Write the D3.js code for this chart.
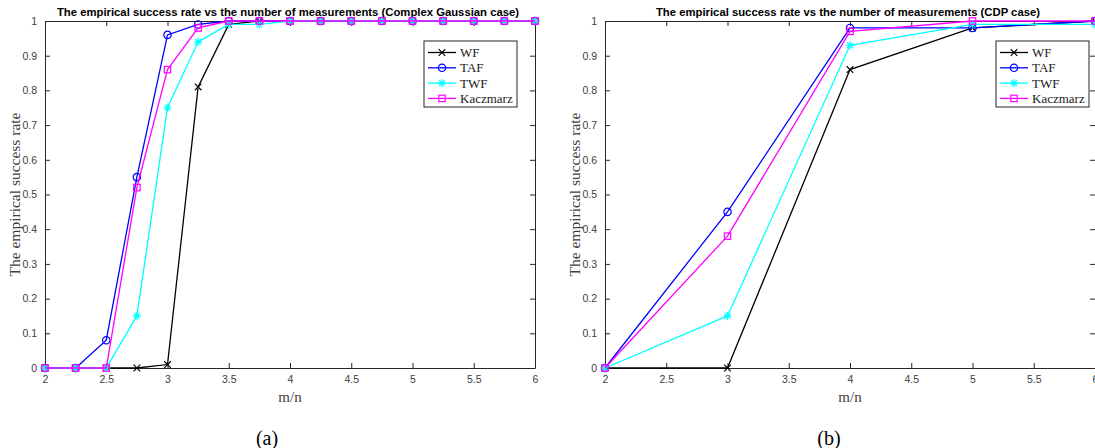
<!DOCTYPE html>
<html>
<head>
<meta charset="utf-8">
<script src="https://cdn.jsdelivr.net/npm/d3@7"></script>
<style>
  html, body { margin: 0; padding: 0; background: #fff; }
  svg { display: block; }
</style>
</head>
<body>
<svg id="chart" width="1095" height="448"></svg>
<script>
/* =======================================================================
   Empirical success rate vs number of measurements
   ======================================================================= */

/* Data
======================================================================= */
var seriesNames = ['WF', 'TAF', 'TWF', 'Kaczmarz'],
    seriesColors = ['#000000', '#0000ff', '#00ffff', '#ff00ff'],
    seriesMarkers = ['x', 'o', 'star', 'square'],

    // Panel (a): complex Gaussian case
    ratiosA = [2, 2.25, 2.5, 2.75, 3, 3.25, 3.5, 3.75, 4, 4.25, 4.5, 4.75, 5, 5.25, 5.5, 5.75, 6],
    wfA   = [0, 0, 0, 0, 0.01, 0.81, 0.99, 1, 1, 1, 1, 1, 1, 1, 1, 1, 1],
    tafA  = [0, 0, 0.08, 0.55, 0.96, 0.99, 1, 1, 1, 1, 1, 1, 1, 1, 1, 1, 1],
    twfA  = [0, 0, 0, 0.15, 0.75, 0.94, 0.99, 0.99, 1, 1, 1, 1, 1, 1, 1, 1, 1],
    kaczA = [0, 0, 0, 0.52, 0.86, 0.98, 1, 1, 1, 1, 1, 1, 1, 1, 1, 1, 1],

    // Panel (b): CDP case
    ratiosB = [2, 3, 4, 5, 6],
    wfB   = [0, 0, 0.86, 0.98, 1],
    tafB  = [0, 0.45, 0.98, 0.98, 1],
    twfB  = [0, 0.15, 0.93, 0.99, 0.99],
    kaczB = [0, 0.38, 0.97, 1, 1],

    // Tick labels
    xTicks = [2, 2.5, 3, 3.5, 4, 4.5, 5, 5.5, 6],
    yTicks = [0, 0.1, 0.2, 0.3, 0.4, 0.5, 0.6, 0.7, 0.8, 0.9, 1];

/* Layout
======================================================================= */
var svg = d3.select('#chart'),
    axisColor = '#262626',
    sansFont = '"Liberation Sans", Arial, sans-serif',
    serifFont = '"Liberation Serif", "Times New Roman", serif',
    panels = [
      {
        title: 'The empirical success rate vs the number of measurements (Complex Gaussian case)',
        caption: '(a)',
        x: ratiosA,
        ys: [wfA, tafA, twfA, kaczA],
        box: { left: 45, right: 535, top: 21, bottom: 368 },
        legend: { x: 424, y: 41 },
        captionX: 267
      },
      {
        title: 'The empirical success rate vs the number of measurements (CDP case)',
        caption: '(b)',
        x: ratiosB,
        ys: [wfB, tafB, twfB, kaczB],
        box: { left: 605, right: 1095, top: 21, bottom: 368 },
        legend: { x: 996, y: 41 },
        captionX: 829
      }
    ];

/* Helpers
======================================================================= */

/**
 * Draw one MATLAB style marker at (0,0) inside group g
 */
function drawMarker(g, type, color) {
  var s = 3.3;
  if (type === 'x') {
    g.append('path').attr('d', 'M' + -s + ',' + -s + 'L' + s + ',' + s + 'M' + -s + ',' + s + 'L' + s + ',' + -s);
  } else if (type === 'o') {
    g.append('circle').attr('r', 3.7);
  } else if (type === 'star') {
    var r = 4.2, d = r * 0.7;
    g.append('path').attr('d', 'M0,' + -r + 'V' + r + 'M' + -r + ',0H' + r +
      'M' + -d + ',' + -d + 'L' + d + ',' + d + 'M' + -d + ',' + d + 'L' + d + ',' + -d);
  } else if (type === 'square') {
    g.append('rect').attr('x', -3.2).attr('y', -3.2).attr('width', 6.4).attr('height', 6.4);
  }
  g.attr('fill', 'none').attr('stroke', color).attr('stroke-width', 1.2);
}

/**
 * Draw a full panel: axes box, ticks, lines, markers, legend and labels
 */
function drawPanel(p) {
  var b = p.box,
      x = d3.scaleLinear().domain([2, 6]).range([b.left, b.right]),
      y = d3.scaleLinear().domain([0, 1]).range([b.bottom, b.top]),
      g = svg.append('g');

  // Title
  g.append('text')
    .attr('x', (b.left + b.right) / 2 - 2)
    .attr('y', 16)
    .attr('text-anchor', 'middle')
    .style('font-family', sansFont)
    .style('font-size', '11.3px')
    .style('font-weight', 'bold')
    .text(p.title);

  // Bottom and left axes with labels, ticks pointing inward
  g.append('g')
    .attr('transform', 'translate(0,' + b.bottom + ')')
    .call(d3.axisBottom(x).tickValues(xTicks).tickSizeInner(-5).tickSizeOuter(0).tickPadding(8)
      .tickFormat(function(d) { return String(d); }));

  g.append('g')
    .attr('transform', 'translate(' + b.left + ',0)')
    .call(d3.axisLeft(y).tickValues(yTicks).tickSizeInner(-5).tickSizeOuter(0).tickPadding(8)
      .tickFormat(function(d) { return String(d); }));

  // Top and right axes, ticks only
  g.append('g')
    .attr('transform', 'translate(0,' + b.top + ')')
    .call(d3.axisTop(x).tickValues(xTicks).tickSizeInner(-5).tickSizeOuter(0).tickFormat(''));

  g.append('g')
    .attr('transform', 'translate(' + b.right + ',0)')
    .call(d3.axisRight(y).tickValues(yTicks).tickSizeInner(-5).tickSizeOuter(0).tickFormat(''));

  g.selectAll('.domain, .tick line').attr('stroke', axisColor).attr('stroke-width', 1);
  g.selectAll('.tick text')
    .attr('fill', '#404040')
    .style('font-family', sansFont)
    .style('font-size', '10.5px');

  // Series lines and markers
  p.ys.forEach(function(vals, i) {
    var pts = vals.map(function(v, j) { return [p.x[j], v]; });

    g.append('path')
      .datum(pts)
      .attr('fill', 'none')
      .attr('stroke', seriesColors[i])
      .attr('stroke-width', 1.3)
      .attr('d', d3.line().x(function(d) { return x(d[0]); }).y(function(d) { return y(d[1]); }));

    g.selectAll(null)
      .data(pts)
      .enter().append('g')
        .attr('transform', function(d) { return 'translate(' + x(d[0]) + ',' + y(d[1]) + ')'; })
        .each(function() { drawMarker(d3.select(this), seriesMarkers[i], seriesColors[i]); });
  });

  // Legend
  var lg = g.append('g').attr('transform', 'translate(' + p.legend.x + ',' + p.legend.y + ')');
  lg.append('rect')
    .attr('width', 93).attr('height', 66)
    .attr('fill', '#fff').attr('stroke', axisColor).attr('stroke-width', 1);

  seriesNames.forEach(function(name, i) {
    var ry = 11.5 + i * 15.3,
        row = lg.append('g').attr('transform', 'translate(0,' + ry + ')');
    row.append('line')
      .attr('x1', 4).attr('x2', 32)
      .attr('stroke', seriesColors[i]).attr('stroke-width', 1.3);
    drawMarker(row.append('g').attr('transform', 'translate(18,0)'), seriesMarkers[i], seriesColors[i]);
    row.append('text')
      .attr('x', 36).attr('y', 4.5)
      .style('font-family', serifFont)
      .style('font-size', '13px')
      .attr('fill', '#1a1a1a')
      .text(name);
  });

  // Axis labels
  g.append('text')
    .attr('x', (b.left + b.right) / 2)
    .attr('y', 402)
    .attr('text-anchor', 'middle')
    .attr('fill', '#404040')
    .style('font-family', serifFont)
    .style('font-size', '15px')
    .text('m/n');

  g.append('text')
    .attr('transform', 'translate(' + (b.left - 25) + ',' + ((b.top + b.bottom) / 2) + ') rotate(-90)')
    .attr('text-anchor', 'middle')
    .attr('fill', '#404040')
    .style('font-family', serifFont)
    .style('font-size', '15.5px')
    .text('The empirical success rate');

  // Caption
  g.append('text')
    .attr('x', p.captionX)
    .attr('y', 445)
    .attr('text-anchor', 'middle')
    .attr('fill', '#000')
    .style('font-family', serifFont)
    .style('font-size', '20px')
    .text(p.caption);
}

/* Logic
======================================================================= */
panels.forEach(drawPanel);
</script>
</body>
</html>
